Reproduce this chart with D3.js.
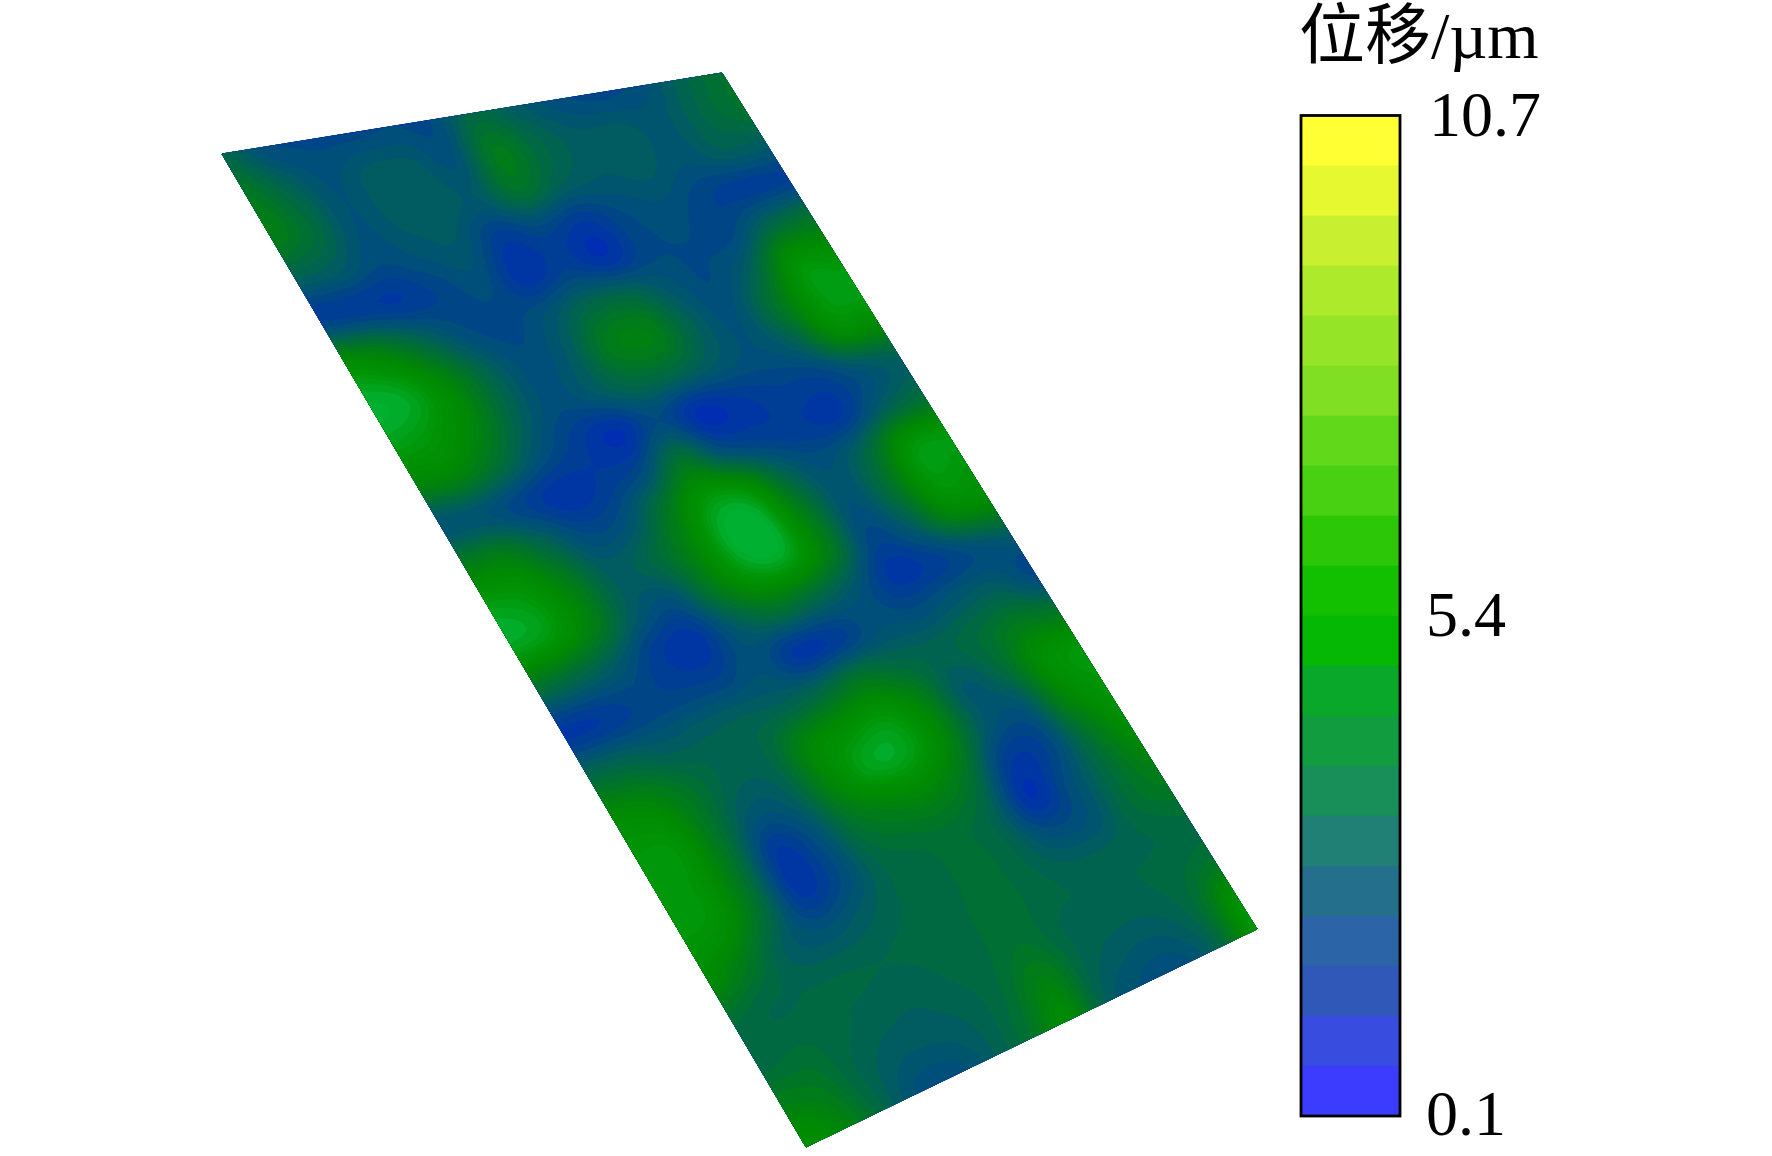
<!DOCTYPE html>
<html><head><meta charset="utf-8">
<script src="https://cdn.jsdelivr.net/npm/d3@7"></script>
<style>html,body{margin:0;padding:0;background:#fff;overflow:hidden}svg{display:block}</style>
</head><body><svg id="c" width="1772" height="1156"></svg>
<script>
// Displacement read from the surface, on a sheet grid (rows along the long side), in units of 0.5 µm
const displacement = [
[5.0,3.2,2.9,2.8,3.0,3.0,5.2,4.2,3.2,2.8,3.3,4.8,6.0],
[6.5,4.8,3.4,4.2,4.2,3.4,6.6,5.2,4.2,4.2,3.8,5.0,6.0],
[7.0,5.5,3.5,4.2,4.4,4.0,6.0,4.6,4.0,4.2,3.6,4.4,4.2],
[4.6,4.2,3.1,3.6,3.9,2.2,2.8,2.0,3.0,3.4,2.6,2.2,2.4],
[2.3,2.2,2.0,2.6,3.2,1.6,2.4,1.6,2.8,3.0,2.8,5.0,6.0],
[8.0,7.0,5.0,3.2,2.8,3.6,5.0,5.2,3.8,3.0,4.6,8.5,8.5],
[10.0,9.5,7.5,4.8,3.2,4.2,6.8,7.0,4.6,3.4,6.0,9.0,9.5],
[9.5,9.0,7.5,4.8,3.2,4.0,5.2,5.0,4.0,3.4,4.6,8.0,8.0],
[7.5,7.5,5.8,3.6,2.2,1.4,3.0,1.4,1.9,2.4,2.4,3.6,4.5],
[3.6,3.6,2.6,1.6,2.1,3.0,6.0,3.2,2.4,2.1,2.0,4.2,5.5],
[7.0,7.0,5.0,3.0,3.4,6.2,9.0,8.5,5.0,3.4,5.0,8.5,9.0],
[9.5,9.0,7.0,4.4,5.0,7.2,10.0,10.0,6.6,3.5,5.6,9.0,9.0],
[9.5,9.0,7.0,4.2,3.4,6.5,9.0,9.2,6.6,2.8,4.2,7.5,8.0],
[5.5,5.0,4.0,2.2,1.7,4.0,5.5,5.0,3.8,1.8,2.2,3.2,4.0],
[1.8,2.0,2.6,2.6,2.6,3.4,1.8,2.2,3.4,3.2,3.8,4.2,2.8],
[5.0,4.8,4.2,4.4,4.6,4.6,5.2,6.2,5.2,4.8,5.5,6.5,6.0],
[8.0,7.5,6.0,4.8,5.0,7.5,8.5,9.0,7.2,4.0,5.2,8.2,9.0],
[9.0,8.8,6.2,3.8,4.4,7.5,9.5,9.5,7.5,4.0,3.6,7.5,9.0],
[9.0,8.8,6.0,2.0,3.2,6.0,7.2,7.5,6.0,2.2,2.6,6.0,8.5],
[9.0,8.5,5.6,1.9,2.9,5.0,5.6,5.8,4.8,1.5,3.2,5.5,7.5],
[8.0,6.5,4.4,3.6,4.2,5.0,5.3,5.7,5.0,3.4,3.6,5.5,6.5],
[5.6,5.0,5.0,5.0,5.0,5.2,5.4,5.8,5.2,4.8,4.8,5.0,5.4],
[5.2,5.5,5.2,4.8,4.6,5.0,5.4,6.0,5.0,4.9,4.9,5.3,6.0],
[7.0,6.5,5.0,4.2,4.2,4.6,5.6,7.2,5.0,4.2,4.2,5.4,8.5],
[8.5,7.5,5.2,3.4,3.2,4.4,6.0,8.0,4.5,3.4,3.2,5.0,9.0]
];
const surfaceLevels = [1,2,3,4,5,6,7,8,9,9.5,10];
const surfaceColors = ["#0028b8","#003a9c","#004a80","#005868","#006648","#00722c","#007e12","#008a02","#009406","#009e14","#00b030"];
const legendColors = ["#ffff33","#e6f930","#c8f030","#aeea2c","#96e428","#80df22","#62d81a","#48d012","#2cc808","#12c000","#04b804","#0aa82a","#129c40","#188e58","#208076","#24708c","#2c64a8","#3058b8","#384ce0","#3c3cff"];
const legendTicks = [10.7,5.4,0.1];
const legendTitle = "位移/µm";
const coarseLevels = [-3,-2.5,-2,-1.5,-1,-0.5,0,0.5,1,1.5,2,2.5,3,3.5,4,4.5,5,5.5,6,6.5];
const fineLevels = [7,7.25,7.5,7.75,8,8.25,8.5,8.75,9,9.25,9.5,9.75,10,10.25,10.5,10.75,11,11.5,12];

const svg = d3.select("#c");
const corners = {tl:[222,154],tr:[722,73],br:[1257,929],bl:[806,1147]};
const rows = displacement.length, cols = displacement[0].length;

// sheet position -> screen, the sheet being seen in perspective
function sheet(u,v){
  u=Math.max(0,Math.min(1,u)); v=Math.max(0,Math.min(1,v));
  const l=[corners.tl[0]+v*(corners.bl[0]-corners.tl[0]),corners.tl[1]+v*(corners.bl[1]-corners.tl[1])];
  const r=[corners.tr[0]+v*(corners.br[0]-corners.tr[0]),corners.tr[1]+v*(corners.br[1]-corners.tr[1])];
  return [l[0]+u*(r[0]-l[0]),l[1]+u*(r[1]-l[1])];
}
// render-time resampling so that the contour edges are smooth
const K=8;
function cr(a,b,c,d,t){return 0.5*(2*b+(c-a)*t+(2*a-5*b+4*c-d)*t*t+(3*b-a-3*c+d)*t*t*t);}
const W=(cols-1)*K+1,H=(rows-1)*K+1;
const at=(i,j)=>displacement[Math.max(0,Math.min(rows-1,i))][Math.max(0,Math.min(cols-1,j))];
const fine=new Float64Array(W*H);
for(let y=0;y<H;y++){const i=Math.min(rows-2,Math.floor(y/K)),ty=y/K-i;
  for(let x=0;x<W;x++){const j=Math.min(cols-2,Math.floor(x/K)),tx=x/K-j;
    const p=[-1,0,1,2].map(d=>cr(at(i+d,j-1),at(i+d,j),at(i+d,j+1),at(i+d,j+2),tx));
    fine[y*W+x]=cr(p[0],p[1],p[2],p[3],ty);
  }}
const thresholds=coarseLevels.concat(fineLevels);
const color=d3.scaleLinear().domain(surfaceLevels).range(surfaceColors).clamp(true);
const contours=d3.contours().size([W,H]).thresholds(thresholds)(fine);
const bandColor=d=>{const i=thresholds.indexOf(d.value);const n=i<thresholds.length-1?thresholds[i+1]:d.value;return color((d.value+n)/2);};
const proj=d3.geoTransform({point(x,y){
  const p=sheet((x-0.5)/(W-1),(y-0.5)/(H-1));this.stream.point(p[0],p[1]);}});
const path=d3.geoPath(proj);
svg.append("g").selectAll("path").data(contours).join("path")
  .attr("d",path).attr("fill",bandColor).attr("stroke",bandColor).attr("stroke-width",0.4);

// colour bar
const barX=1301,barW=99,barTop=115.5,barBottom=1116;
const band=d3.scaleBand().domain(d3.range(legendColors.length)).range([barTop,barBottom]);
svg.append("g").selectAll("rect").data(legendColors).join("rect")
  .attr("x",barX).attr("width",barW).attr("y",(d,i)=>band(i)).attr("height",band.bandwidth()+0.5).attr("fill",d=>d);
svg.append("rect").attr("x",barX).attr("y",barTop).attr("width",barW).attr("height",barBottom-barTop)
  .attr("fill","none").attr("stroke","#000").attr("stroke-width",2.8);
const tick=d3.scaleLinear().domain([0.1,10.7]).range([1135,136]);
const font="'Liberation Serif','Noto Sans CJK SC',serif";
svg.append("g").selectAll("text").data(legendTicks).join("text")
  .attr("x",(d,i)=>i===0?1429:1426).attr("y",d=>tick(d)).attr("font-family",font).attr("font-size",64).attr("fill","#000")
  .text(d=>d.toFixed(1));
svg.append("text").attr("x",1299).attr("y",58).attr("font-family",font).attr("font-size",66).attr("fill","#000").text(legendTitle);
</script></body></html>
